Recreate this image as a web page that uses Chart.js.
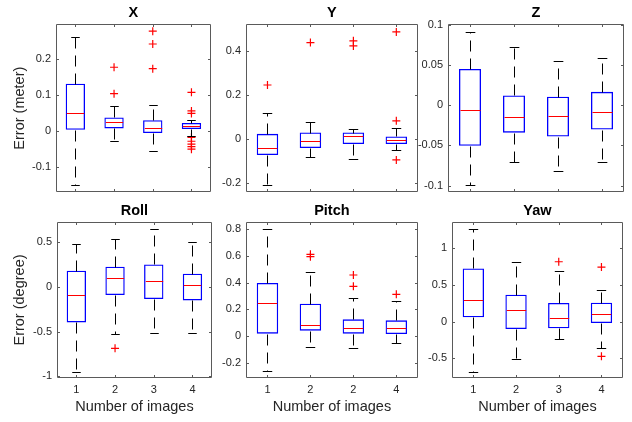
<!DOCTYPE html>
<html>
<head>
<meta charset="utf-8">
<script src="https://cdn.jsdelivr.net/npm/chart.js@4.4.1/dist/chart.umd.min.js"></script>
<style>
  body { margin: 0; background: #fff; }
  #wrap { position: relative; width: 632px; height: 422px; }
  canvas { position: absolute; }
</style>
</head>
<body>
<div id="wrap">
  <canvas id="cX"></canvas>
  <canvas id="cY"></canvas>
  <canvas id="cZ"></canvas>
  <canvas id="cRoll"></canvas>
  <canvas id="cPitch"></canvas>
  <canvas id="cYaw"></canvas>
</div>
<script>
// categories (number of images) and the tick labels shown under each panel
const categories = ["1", "2", "3", "4"];
const tickLabels = ["1", "2", "3", "4"];
const pitchTickLabels = ["1", "2", "2", "4"];   // as printed in the original figure

// box stats per category: [lower whisker, Q1, median, Q3, upper whisker]
const statsX = [
  [-0.151, 0.003, 0.050, 0.132, 0.263],
  [-0.028, 0.007, 0.026, 0.0375, 0.069],
  [-0.057, -0.006, 0.009, 0.030, 0.073],
  [-0.014, 0.005, 0.013, 0.022, 0.031]
];
const outliersX = [[], [0.178, 0.104], [0.279, 0.243, 0.174],
  [0.108, 0.056, 0.049, -0.018, -0.029, -0.037, -0.044, -0.051]];

const statsY = [
  [-0.206, -0.072, -0.039, 0.024, 0.118],
  [-0.083, -0.040, -0.009, 0.030, 0.079],
  [-0.091, -0.022, 0.013, 0.030, 0.046],
  [-0.050, -0.022, -0.004, 0.012, 0.052]
];
const outliersY = [[0.245], [0.437], [0.445, 0.422], [0.485, 0.083, -0.094]];

const statsZ = [
  [-0.0988, -0.0504, -0.0056, 0.0452, 0.0917],
  [-0.0710, -0.0341, -0.0143, 0.0123, 0.0722],
  [-0.0817, -0.0389, -0.0131, 0.0107, 0.0556],
  [-0.0710, -0.0302, -0.0083, 0.0167, 0.0583]
];
const outliersZ = [[], [], [], []];

const statsRoll = [
  [-0.950, -0.397, -0.094, 0.183, 0.486],
  [-0.531, -0.090, 0.097, 0.228, 0.539],
  [-0.516, -0.135, 0.064, 0.254, 0.647],
  [-0.516, -0.150, 0.019, 0.150, 0.501]
];
const outliersRoll = [[], [-0.688], [], []];

const statsPitch = [
  [-0.265, 0.0175, 0.245, 0.3975, 0.800],
  [-0.0825, 0.040, 0.080, 0.2425, 0.4825],
  [-0.090, 0.0175, 0.0575, 0.125, 0.2825],
  [-0.050, 0.015, 0.0575, 0.1175, 0.265]
];
const outliersPitch = [[], [0.6125, 0.595], [0.4575, 0.3725], [0.3125]];

const statsYaw = [
  [-0.682, 0.059, 0.291, 0.727, 1.259],
  [-0.509, -0.100, 0.155, 0.368, 0.814],
  [-0.232, -0.091, 0.045, 0.255, 0.686],
  [-0.355, -0.018, 0.105, 0.259, 0.436]
];
const outliersYaw = [[], [], [0.818], [0.745, -0.473]];

// y tick values
const ticksX = [-0.1, 0, 0.1, 0.2];
const ticksY = [-0.2, 0, 0.2, 0.4];
const ticksZ = [-0.1, -0.05, 0, 0.05, 0.1];
const ticksRoll = [-1, -0.5, 0, 0.5];
const ticksPitch = [-0.2, 0, 0.2, 0.4, 0.6, 0.8];
const ticksYaw = [-0.5, 0, 0.5, 1];

Chart.defaults.font.family = "'Liberation Sans', Arial, sans-serif";
Chart.defaults.color = "#262626";

const FRAME = "#5a5a5a";

// whiskers, caps and median line
const boxParts = {
  id: "boxParts",
  afterDatasetsDraw(chart, args, opts) {
    const { ctx, scales: { x, y } } = chart;
    const unit = x.getPixelForValue(1) - x.getPixelForValue(0);
    const capHalf = unit * 0.11;
    const boxHalf = unit * 0.25;
    ctx.save();
    ctx.lineWidth = 1;
    opts.stats.forEach((s, i) => {
      const cx = Math.round(x.getPixelForValue(i)) + 0.5;
      const [lo, q1, med, q3, hi] = s.map(v => Math.round(y.getPixelForValue(v)) + 0.5);
      ctx.strokeStyle = "#000";
      ctx.setLineDash([11, 7]);
      ctx.beginPath();
      ctx.moveTo(cx, q3); ctx.lineTo(cx, hi);
      ctx.moveTo(cx, q1); ctx.lineTo(cx, lo);
      ctx.stroke();
      ctx.setLineDash([]);
      ctx.beginPath();
      ctx.moveTo(cx - capHalf, hi); ctx.lineTo(cx + capHalf, hi);
      ctx.moveTo(cx - capHalf, lo); ctx.lineTo(cx + capHalf, lo);
      ctx.stroke();
      ctx.strokeStyle = "#ff0000";
      ctx.beginPath();
      ctx.moveTo(cx - boxHalf + 1, med); ctx.lineTo(cx + boxHalf - 1, med);
      ctx.stroke();
    });
    ctx.restore();
  }
};

// axes box with inward ticks on all four sides (MATLAB look)
const frame = {
  id: "frame",
  afterDraw(chart) {
    const { ctx, chartArea: a, scales: { x, y } } = chart;
    const L = Math.round(a.left) + 0.5, R = Math.round(a.right) - 0.5;
    const T = Math.round(a.top) + 0.5, B = Math.round(a.bottom) - 0.5;
    ctx.save();
    ctx.strokeStyle = FRAME;
    ctx.lineWidth = 1;
    ctx.beginPath();
    ctx.rect(L, T, R - L, B - T);
    x.ticks.forEach(t => {
      const px = Math.round(x.getPixelForValue(t.value)) + 0.5;
      ctx.moveTo(px, B); ctx.lineTo(px, B - 2.5);
      ctx.moveTo(px, T); ctx.lineTo(px, T + 2.5);
    });
    y.ticks.forEach(t => {
      const py = Math.round(y.getPixelForValue(t.value)) + 0.5;
      ctx.moveTo(L, py); ctx.lineTo(L + 2.5, py);
      ctx.moveTo(R, py); ctx.lineTo(R - 2.5, py);
    });
    ctx.stroke();
    ctx.restore();
  }
};

function makePanel(id, cfg) {
  const el = document.getElementById(id);
  el.width = cfg.w; el.height = cfg.h;
  el.style.left = cfg.left + "px"; el.style.top = cfg.top + "px";
  const outlierPts = [];
  cfg.outliers.forEach((list, i) => list.forEach(v => outlierPts.push({ x: categories[i], y: v })));
  return new Chart(el, {
    type: "bar",
    data: {
      labels: categories,
      datasets: [
        {
          type: "bar",
          data: cfg.stats.map(s => [s[1], s[3]]),
          backgroundColor: "rgba(0,0,0,0)",
          borderColor: "#0000ff",
          borderWidth: 1.3,
          borderSkipped: false,
          barPercentage: 0.5,
          categoryPercentage: 1
        },
        {
          type: "scatter",
          data: outlierPts,
          pointStyle: "cross",
          radius: 4,
          borderColor: "#ff0000",
          borderWidth: 1.2
        }
      ]
    },
    options: {
      responsive: false,
      animation: false,
      devicePixelRatio: 1,
      layout: { padding: { left: 0, right: 4, top: 0, bottom: 0 } },
      plugins: {
        legend: { display: false },
        tooltip: { enabled: false },
        title: {
          display: true,
          text: cfg.title,
          fullSize: false,
          color: "#000",
          font: { size: 14.5, weight: "bold", lineHeight: "16px" },
          padding: { top: 5, bottom: 3 }
        },
        boxParts: { stats: cfg.stats }
      },
      scales: {
        x: {
          type: "category",
          offset: true,
          grid: { display: false, drawTicks: false, tickLength: 0 },
          border: { display: false },
          ticks: {
            display: cfg.xTitle !== "",
            font: { size: 11 },
            padding: 5,
            maxRotation: 0,
            callback: (v, i) => cfg.xLabels[i]
          },
          title: {
            display: cfg.xTitle !== "",
            text: cfg.xTitle,
            font: { size: 14.5, lineHeight: "16px" },
            padding: { top: 0, bottom: 7 }
          },
          afterFit: s => { s.height = cfg.xh; }
        },
        y: {
          type: "linear",
          min: cfg.min,
          max: cfg.max,
          grid: { display: false, drawTicks: false, tickLength: 0 },
          border: { display: false },
          afterBuildTicks: s => { s.ticks = cfg.ticks.map(v => ({ value: v })); },
          ticks: {
            font: { size: 11 },
            padding: 5,
            callback: v => String(v)
          },
          title: {
            display: cfg.yTitle !== "",
            text: cfg.yTitle,
            font: { size: 14.5, lineHeight: "16px" },
            padding: { top: 12, bottom: 0 }
          },
          afterFit: s => { s.width = cfg.yw; }
        }
      }
    },
    plugins: [boxParts, frame]
  });
}

makePanel("cX", { left: 0, top: 0, w: 216, h: 204, yw: 56, xh: 4, title: "X",
  stats: statsX, outliers: outliersX, ticks: ticksX, min: -0.172, max: 0.299,
  xLabels: tickLabels, xTitle: "", yTitle: "Error (meter)" });
makePanel("cY", { left: 210, top: 0, w: 213, h: 204, yw: 36, xh: 4, title: "Y",
  stats: statsY, outliers: outliersY, ticks: ticksY, min: -0.241, max: 0.521,
  xLabels: tickLabels, xTitle: "", yTitle: "" });
makePanel("cZ", { left: 408, top: 0, w: 220, h: 204, yw: 40, xh: 4, title: "Z",
  stats: statsZ, outliers: outliersZ, ticks: ticksZ, min: -0.1085, max: 0.1012,
  xLabels: tickLabels, xTitle: "", yTitle: "" });
makePanel("cRoll", { left: 0, top: 198, w: 217, h: 224, yw: 57, xh: 44, title: "Roll",
  stats: statsRoll, outliers: outliersRoll, ticks: ticksRoll, min: -1.021, max: 0.7295,
  xLabels: tickLabels, xTitle: "Number of images", yTitle: "Error (degree)" });
makePanel("cPitch", { left: 210, top: 198, w: 213, h: 224, yw: 36, xh: 44, title: "Pitch",
  stats: statsPitch, outliers: outliersPitch, ticks: ticksPitch, min: -0.315, max: 0.855,
  xLabels: pitchTickLabels, xTitle: "Number of images", yTitle: "" });
makePanel("cYaw", { left: 412, top: 198, w: 216, h: 224, yw: 40, xh: 44, title: "Yaw",
  stats: statsYaw, outliers: outliersYaw, ticks: ticksYaw, min: -0.768, max: 1.36,
  xLabels: tickLabels, xTitle: "Number of images", yTitle: "" });
</script>
</body>
</html>
